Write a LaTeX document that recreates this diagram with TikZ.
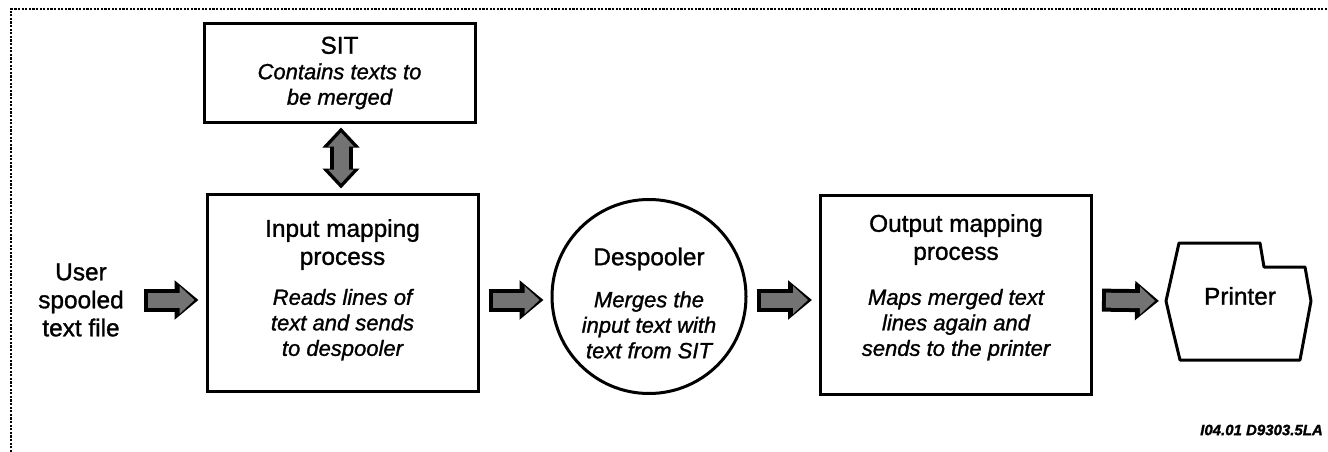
\documentclass[tikz,border=0pt]{standalone}
\usepackage{fontspec}
\setmainfont{Liberation Sans}[FakeBold=1.2]
\usetikzlibrary{arrows.meta}
\tikzset{
  procbox/.style={draw, line width=3pt, minimum width=271pt, align=center, inner sep=0pt, font=\fontsize{24.4}{25.5}\selectfont},
  flowarrow/.style={line width=15pt, draw=black!55, -{Triangle[width=27pt,length=15pt]}, shorten >=11pt, shorten <=13pt,
    preaction={draw=black, line width=23pt, -{Triangle[width=38pt,length=24pt]}, shorten >=7pt, shorten <=9pt}},
  bothways/.style={line width=15pt, draw=black!55, {Triangle[width=25pt,length=14pt]}-{Triangle[width=25pt,length=14pt]}, shorten >=9pt, shorten <=9pt,
    preaction={draw=black, line width=23pt, {Triangle[width=36pt,length=20pt]}-{Triangle[width=36pt,length=20pt]}, shorten >=4pt, shorten <=4pt}}
}
\newcommand{\note}[1]{\fontsize{22}{25.5}\selectfont\itshape #1}
\begin{document}
\begin{tikzpicture}[x=1pt, y=-1pt]
  \useasboundingbox (0,0) rectangle (1328,452);
  % frame
  \draw[line width=2.6pt, dash pattern=on 2.2pt off 1.4pt] (11,452) -- (11,9) -- (1328,9);

  \node (user) [minimum width=108pt, align=center, inner sep=0pt, font=\fontsize{24.4}{28}\selectfont] at (81,300) {User\\spooled\\text file};
  \node (sit) [procbox, minimum height=98pt] at (339.5,73)
    {SIT\\\note{Contains texts to}\\\note{be merged}};
  \node (input) [procbox, minimum height=197pt] at (342.5,292.5)
    {Input mapping\\[2.5pt]process\\[14.5pt]\note{Reads lines of}\\\note{text and sends}\\\note{to despooler}\\[-15.5pt]\mbox{}};
  \node (despool) [circle, draw, line width=3pt, minimum size=194pt, inner sep=0pt] at (649,296.5) {};
  \node (despooltext) [align=center, inner sep=0pt, font=\fontsize{24.4}{25.5}\selectfont] at (649,303)
    {Despooler\\[16.5pt]\note{Merges the}\\\note{input text with}\\\note{text from SIT}};
  \node (output) [procbox, minimum height=199pt] at (956,294.5)
    {Output mapping\\[2.5pt]process\\[19.5pt]\note{Maps merged text}\\\note{lines again and}\\\note{sends to the printer}\\[-6.5pt]\mbox{}};
  \node (printer) [inner sep=0pt, font=\fontsize{24.4}{28}\selectfont] at (1240,296) {Printer};
  \coordinate (printerin) at (1166,301);
  \draw[line width=3pt, line join=round] (printerin) -- (1179,243) -- (1260,243) -- (1264,267) -- (1305,267)
    -- (1311,301) -- (1300,360) -- (1180,360) -- (1172,327) -- cycle;
  \node (docid) [anchor=east, inner sep=0pt, font=\fontsize{15}{17}\selectfont\bfseries\itshape] at (1323,430) {I04.01 D9303.5LA};

  \draw[flowarrow] (user.east) -- (input.west |- user);
  \draw[flowarrow] (input.east |- user) -- (despool.west |- user);
  \draw[flowarrow] (despool.east |- user) -- (output.west |- user);
  \draw[flowarrow] (output.east |- user) -- (printerin);
  \draw[bothways] ([xshift=1.5pt]sit.south) -- ([xshift=-1.5pt]input.north);
\end{tikzpicture}
\end{document}
